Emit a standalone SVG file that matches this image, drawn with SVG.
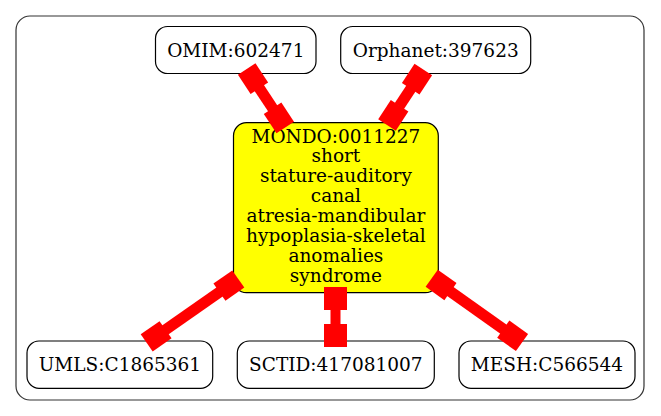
<svg xmlns="http://www.w3.org/2000/svg" width="661" height="416" viewBox="0 0 661 416">
<style>
.node rect{stroke:#000;stroke-width:1.2;fill:#fff}
#mondo rect{fill:#ffff00}
text{font-family:"DejaVu Serif","Liberation Serif",serif;font-size:18.5px;fill:#000;text-anchor:middle}
.edge{fill:#ff0000}
</style>
<defs>
<g id="e60"><rect x="0" y="-11.5" width="23" height="23"/><rect x="22" y="-5" width="16" height="10"/><rect x="37" y="-11.5" width="23" height="23"/></g>
</defs>
<rect x="16" y="16" width="628" height="384" rx="14" ry="14" fill="#fff" stroke="#333" stroke-width="1.2"/>
<g id="omim" class="node"><rect x="155.5" y="26.5" width="160.5" height="47" rx="12"/><text x="235.8" y="56.5">OMIM:602471</text></g>
<g id="orphanet" class="node"><rect x="340.7" y="26.5" width="190" height="47" rx="12"/><text x="435.7" y="56.5">Orphanet:397623</text></g>
<g id="mondo" class="node"><rect x="233.5" y="122.7" width="204.8" height="170" rx="13"/>
<text x="335.9" y="142.5">MONDO:0011227</text>
<text x="335.9" y="162.4">short</text>
<text x="335.9" y="182.2">stature-auditory</text>
<text x="335.9" y="202.1">canal</text>
<text x="335.9" y="221.9">atresia-mandibular</text>
<text x="335.9" y="241.8">hypoplasia-skeletal</text>
<text x="335.9" y="261.6">anomalies</text>
<text x="335.9" y="281.5">syndrome</text></g>
<g id="umls" class="node"><rect x="27" y="341" width="185.7" height="47.3" rx="12"/><text x="119.9" y="371">UMLS:C1865361</text></g>
<g id="sctid" class="node"><rect x="237.3" y="341" width="197" height="47.3" rx="12"/><text x="335.8" y="371">SCTID:417081007</text></g>
<g id="mesh" class="node"><rect x="459" y="341" width="176" height="47.3" rx="12"/><text x="547" y="371">MESH:C566544</text></g>
<g id="connectors" class="edge">
<g transform="translate(246.7,69) rotate(56.6)"><rect x="0" y="-10.5" width="23" height="21"/><rect x="22" y="-5.5" width="26" height="11"/><rect x="47" y="-10.5" width="23" height="21"/></g>
<g transform="translate(423.3,69.5) rotate(123.2)"><rect x="0" y="-10.5" width="23" height="21"/><rect x="22" y="-5.5" width="22" height="11"/><rect x="43.3" y="-10.5" width="23" height="21"/></g>
<g transform="translate(238.3,279) rotate(145.1)"><rect x="0" y="-10.5" width="23" height="21"/><rect x="22" y="-5.5" width="68" height="11"/><rect x="88.7" y="-10.5" width="23" height="21"/></g>
<g transform="translate(431.7,278.3) rotate(35.4)"><rect x="0" y="-10.5" width="23" height="21"/><rect x="22" y="-5.5" width="67" height="11"/><rect x="87.8" y="-10.5" width="23" height="21"/></g>
<g transform="translate(335.5,287) rotate(90)"><use href="#e60"/></g>
</g>
</svg>
